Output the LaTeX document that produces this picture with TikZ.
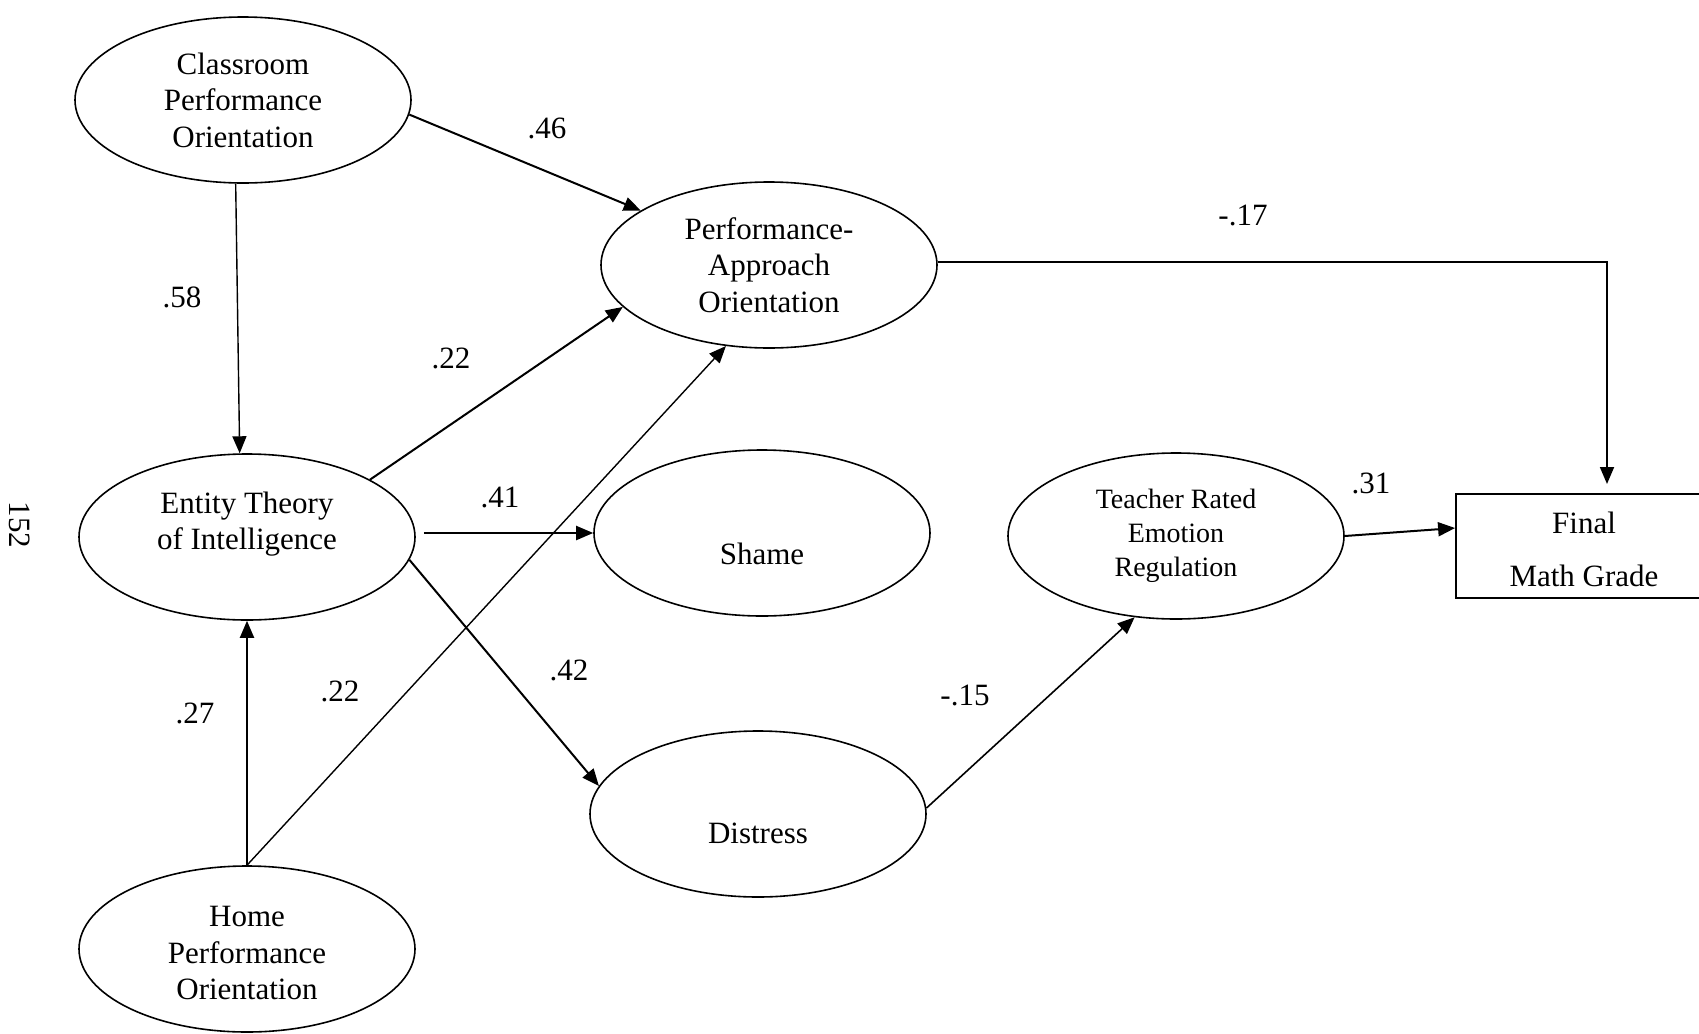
\documentclass[tikz,border=0pt]{standalone}
\usepackage{fontspec}
\setmainfont{Liberation Serif}
\usetikzlibrary{shapes.geometric,arrows.meta,calc}
\begin{document}
\begin{tikzpicture}[x=0.5pt,y=-0.5pt,
  latent/.style={ellipse,draw,line width=0.8pt,minimum width=168pt,minimum height=83pt,
    inner sep=0pt,align=center,font=\fontsize{15.5}{18.2}\selectfont},
  observed/.style={rectangle,draw,line width=0.9pt,minimum width=128pt,minimum height=52pt,
    inner sep=0pt},
  plain/.style={align=center,inner sep=0pt,font=\fontsize{15.5}{18.2}\selectfont},
  coef/.style={inner sep=0pt,font=\fontsize{15.5}{18}\selectfont},
  reg/.style={-{Triangle[length=8.5pt,width=7pt]},line width=1pt},
  regthin/.style={reg,line width=0.7pt},
]
\useasboundingbox (0,0) rectangle (1699,1034);
\fill[white] (0,0) rectangle (1699,1034);

% latent variables
\node[latent] (cls) at (243,100) {Classroom\\Performance\\Orientation};
\node[latent] (pa) at (769,265) {Performance-\\Approach\\Orientation};
\node[latent] (ent) at (247,537) {};
\node[plain] (ent-t) at (247,524) {Entity Theory\\of Intelligence};
\node[latent] (sha) at (762,533) {};
\node[plain] (sha-t) at (762,554) {Shame};
\node[latent,font=\fontsize{14}{17}\selectfont] (ter) at (1176,536) {Teacher Rated\\Emotion\\Regulation};
\node[latent] (dis) at (758,814) {};
\node[plain] (dis-t) at (758,833) {Distress};
\node[latent] (hom) at (247,949) {};
\node[plain] (hom-t) at (247,953) {Home\\Performance\\Orientation};

% observed outcome
\node[observed] (fin) at (1584,546) {};
\node[plain,font=\fontsize{15.5}{26.5}\selectfont] (fin-t) at (1584,549) {Final\\Math Grade};
\coordinate (fin-in) at (1607,494);

% page number
\node[coef,rotate=-90] (pg) at (19.5,525) {152};

% paths
\draw[reg] (cls.-5) -- (pa.157);
\draw[regthin] (cls.-95) -- (ent.95);
\draw[reg] (ent.25.5) -- (pa.196);
\draw[regthin] (hom.north) -- (pa.242);
\draw[reg] (hom.north) -- (ent.south);
\draw[reg,shorten <=4pt] (sha.west -| ent.east) -- (sha.west);
\draw[reg] (ent.-8.4) -- (dis.170);
\draw[regthin,line width=0.8pt] (dis.2.4) -- (ter.243);
\draw[reg] (ter.east) -- ($(fin.north west)!0.33!(fin.south west)$);
\draw[reg,line width=0.9pt,shorten >=5pt] (pa.1) -| (fin-in);

% path coefficients
\node[coef] (c46) at (547,128) {.46};
\node[coef] (c58) at (182,297) {.58};
\node[coef] (c22a) at (451,358) {.22};
\node[coef] (c41) at (500,497) {.41};
\node[coef] (c42) at (569,670) {.42};
\node[coef] (c22b) at (340,691) {.22};
\node[coef] (c27) at (195,713) {.27};
\node[coef] (c17) at (1243,215) {-.17};
\node[coef] (c31) at (1371,483) {.31};
\node[coef] (c15) at (965,695) {-.15};
\end{tikzpicture}
\end{document}
